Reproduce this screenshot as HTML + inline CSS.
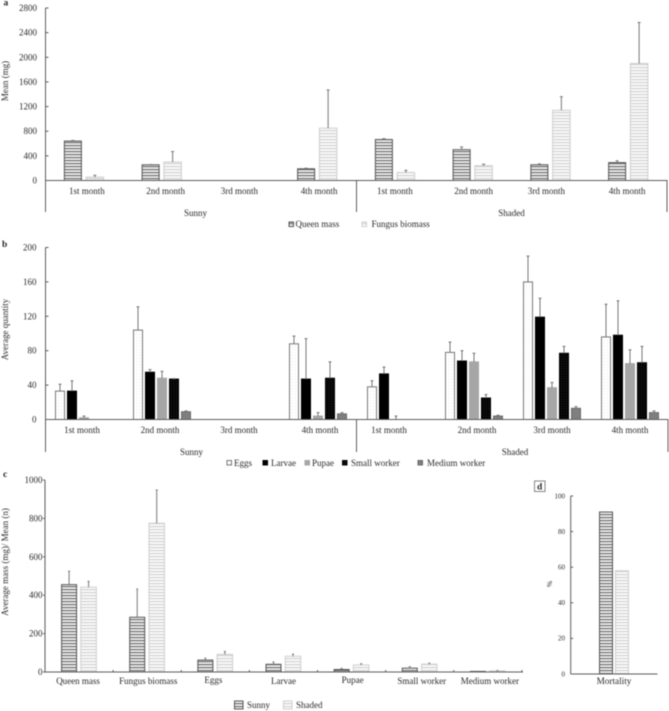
<!DOCTYPE html>
<html lang="en">
<head>
<meta charset="utf-8">
<title>Colony measurements by month and environment</title>
<style>
html,body{margin:0;padding:0;background:#fff;width:669px;height:711px;overflow:hidden}
svg{display:block;filter:blur(0.4px)}
text{font-family:"Liberation Serif",serif;fill:#2a2a2a;font-size:9px}
</style>
</head>
<body>
<svg id="figure" width="669" height="711" viewBox="0 0 669 711" xmlns="http://www.w3.org/2000/svg">
<defs>
<pattern id="stripeDark" patternUnits="userSpaceOnUse" width="4" height="3"><rect width="4" height="3" fill="#f0f0f0"/><rect y="1" width="4" height="1.2" fill="#6e6e6e"/></pattern>
<pattern id="stripeLight" patternUnits="userSpaceOnUse" width="4" height="3"><rect width="4" height="3" fill="#fbfbfb"/><rect y="1" width="4" height="1.2" fill="#d2d2d2"/></pattern>
<pattern id="dotsLight" patternUnits="userSpaceOnUse" width="3" height="3"><rect width="3" height="3" fill="#fff"/><rect x="1" y="1" width="1" height="1" fill="#e6e6e6"/></pattern>
<pattern id="dotsDark" patternUnits="userSpaceOnUse" width="2.5" height="2.5"><rect width="2.5" height="2.5" fill="#050505"/><rect x="1" y="1" width="0.8" height="0.8" fill="#2c2c2c"/></pattern>
</defs>
</svg>
<script>
// Panel a data
const monthLabels = ['1st month','2nd month','3rd month','4th month','1st month','2nd month','3rd month','4th month'];
const groupLabels = ['Sunny','Shaded'];
const aTicks = [0,400,800,1200,1600,2000,2400,2800];
const aQueen = [640,255,0,190,665,500,255,290];
const aQueenErr = [10,5,0,10,15,45,15,30];
const aFungus = [55,300,0,850,130,240,1140,1900];
const aFungusErr = [30,170,0,620,35,25,220,665];

// Panel b data
const bTicks = [0,40,80,120,160,200];
const bEggs = [33,104,0,88,38,78,160,96];
const bEggsErr = [8,27,0,9,7,12,30,38];
const bLarvae = [33,55,0,47,53,68,119,98];
const bLarvaeErr = [12,3,0,47,8,12,22,40];
const bPupae = [2,48,0,4,0,67,37,65];
const bPupaeErr = [2,8,0,4,4,10,6,16];
const bSmall = [0,47,0,48,0,25,77,66];
const bSmallErr = [0,0.5,0,19,0,4,8,19];
const bMedium = [0,9,0,6.5,0,4,13,8];
const bMediumErr = [0,1,0,1.5,0,1,2,2];

// Panel c data
const cCategories = ['Queen mass','Fungus biomass','Eggs','Larvae','Pupae','Small worker','Medium worker'];
const cTicks = [0,200,400,600,800,1000];
const cSunny = [455,285,62,40,13,20,3];
const cSunnyErr = [70,147,10,12,6,8,0.5];
const cShaded = [442,775,92,82,37,41,6];
const cShadedErr = [30,173,15,11,6,5,2];

// Panel d data
const dCategories = ['Mortality'];
const dTicks = [0,20,40,60,80,100];
const dSunny = [91];
const dShaded = [58];

const NS = 'http://www.w3.org/2000/svg';
const root = document.getElementById('figure');

function make(tag, parent, attrs) {
  const node = document.createElementNS(NS, tag);
  for (const k in attrs) node.setAttribute(k, attrs[k]);
  parent.appendChild(node);
  return node;
}
function label(parent, str, x, y, anchor, size, weight, rotate) {
  const attrs = {x: x, y: y, 'text-anchor': anchor || 'middle'};
  if (size) attrs['font-size'] = size;
  if (size) attrs.style = 'font-size:' + size + 'px' + (weight ? ';font-weight:' + weight : '');
  else if (weight) attrs.style = 'font-weight:' + weight;
  if (rotate) attrs.transform = 'rotate(-90 ' + x + ' ' + y + ')';
  const t = make('text', parent, attrs);
  t.textContent = str;
  return t;
}
function seg(parent, x1, y1, x2, y2, color, w) {
  return make('line', parent, {x1: x1, y1: y1, x2: x2, y2: y2, stroke: color, 'stroke-width': w || 1});
}
function linearAxis(maxValue, y0, yTop) {
  return function (v) { return y0 - v / maxValue * (y0 - yTop); };
}
function bandAxis(x0, x1, count) {
  const step = (x1 - x0) / count;
  return function (i) { return x0 + step * (i + 0.5); };
}

const AXIS = '#5c5c5c';
const styles = {
  queen:   {fill: 'url(#stripeDark)',  stroke: '#555', err: '#777'},
  fungus:  {fill: 'url(#stripeLight)', stroke: '#cfcfcf', err: '#777'},
  eggs:    {fill: 'url(#dotsLight)',   stroke: '#777', err: '#777'},
  larvae:  {fill: '#000',              stroke: '#000', err: '#777'},
  pupae:   {fill: '#a6a6a6',           stroke: '#a6a6a6', err: '#777'},
  small:   {fill: 'url(#dotsDark)',    stroke: '#000', err: '#777'},
  medium:  {fill: '#7f7f7f',           stroke: '#6a6a6a', err: '#777'}
};

function drawSeries(parent, name, values, errs, style, xBand, yAxis, barWidth, offset, capHalf) {
  values.forEach(function (v, i) {
    const x = xBand(i) + offset - barWidth / 2;
    const yTop = yAxis(v);
    const bar = make('rect', parent, {x: x + 0.5, y: yTop, width: barWidth - 1, height: Math.max(0, yAxis(0) - yTop), fill: style.fill, stroke: style.stroke, 'stroke-width': 1});
    
    
    if (errs && errs[i] > 0) {
      const cx = x + barWidth / 2;
      const yE = yAxis(v + errs[i]);
      const eb = make('g', parent, {});
      
      
      seg(eb, cx, yTop, cx, yE, style.err);
      seg(eb, cx - capHalf, yE, cx + capHalf, yE, style.err);
    }
  });
}
function drawYAxis(parent, ticks, yAxis, x, yBottom, tickDir, labelX, size) {
  const line = seg(parent, x, yAxis(ticks[ticks.length - 1]), x, yBottom, AXIS);
  
  
  ticks.forEach(function (t) {
    const y = yAxis(t);
    const tk = seg(parent, x, y, x + tickDir, y, AXIS);
    
    
    const lb = label(parent, String(t), labelX, y + (size ? size * 0.33 : 3), 'end', size);
    
    
  });
}
function swatch(parent, name, x, y, w, h, style, sw) {
  const s = make('rect', parent, {x: x, y: y, width: w, height: h, fill: style.fill, stroke: style.stroke, 'stroke-width': sw || 1});
  
  
}
function panelLetter(parent, letter, x, y) {
  const t = label(parent, letter, x, y, 'start', 9.5, 'bold');
  
  
}
function drawMonthAxis(parent, xBand, y0, yBottom, xRight, dividerX, labelY, groupY, groupXs, nudge) {
  const base = seg(parent, 45, y0, xRight, y0, AXIS);
  
  
  const div = seg(parent, dividerX, y0, dividerX, yBottom, AXIS);
  
  
  const end = seg(parent, xRight - 0.5, y0, xRight - 0.5, yBottom, AXIS);
  
  
  monthLabels.forEach(function (m, i) {
    const t = label(parent, m, xBand(i) + (nudge[i] || 0), labelY);
    
    
  });
  groupLabels.forEach(function (g, i) {
    const t = label(parent, g, groupXs[i], groupY);
    
    
  });
}

/* ---------- Panel a ---------- */
const pa = make('g', root, {});


panelLetter(pa, 'a', 3.5, 5.5);
const ya = linearAxis(2800, 180.5, 8);
const xa = bandAxis(45, 667, 8);
drawSeries(pa, 'queen-mass', aQueen, aQueenErr, styles.queen, xa, ya, 18, -11, 1.5);
drawSeries(pa, 'fungus-biomass', aFungus, aFungusErr, styles.fungus, xa, ya, 18.5, 11, 1.5);
drawYAxis(pa, aTicks, ya, 45.5, 212, 3, 37);
drawMonthAxis(pa, xa, 180.5, 212, 667.5, 356.5, 194, 216, [195.5, 511.5], {0: 3, 1: 4, 3: 2, 5: 1, 6: -4, 7: -1});
const ta = label(pa, 'Mean (mg)', 8, 81, 'middle', null, null, true);


swatch(pa, 'legend-swatch-queen-mass', 289, 222, 4.5, 4.5, styles.queen);
const la1 = label(pa, 'Queen mass', 295.5, 227, 'start');


swatch(pa, 'legend-swatch-fungus-biomass', 362, 222, 4.5, 4.5, styles.fungus);
const la2 = label(pa, 'Fungus biomass', 371.5, 227, 'start');



/* ---------- Panel b ---------- */
const pb = make('g', root, {});


panelLetter(pb, 'b', 2, 247);
const yb = linearAxis(200, 419.5, 247.5);
const xb = bandAxis(45, 669, 8);
drawSeries(pb, 'eggs', bEggs, bEggsErr, styles.eggs, xb, yb, 10, -24, 1.5);
drawSeries(pb, 'larvae', bLarvae, bLarvaeErr, styles.larvae, xb, yb, 10, -12, 1.5);
drawSeries(pb, 'pupae', bPupae, bPupaeErr, styles.pupae, xb, yb, 10, 0, 1.5);
drawSeries(pb, 'small-worker', bSmall, bSmallErr, styles.small, xb, yb, 10, 12, 1.5);
drawSeries(pb, 'medium-worker', bMedium, bMediumErr, styles.medium, xb, yb, 10, 24, 1.5);
drawYAxis(pb, bTicks, yb, 45.5, 452, 3, 36.5);
drawMonthAxis(pb, xb, 419.5, 452, 668.5, 356.5, 433, 455, [191.5, 515], {0: -2, 1: -2, 2: -1, 3: 2, 4: -7, 5: 3});
const tb = label(pb, 'Average quantity', 8, 329.5, 'middle', null, null, true);


[
  ['eggs', 'Eggs', 227, 234, styles.eggs],
  ['larvae', 'Larvae', 263, 271, styles.larvae],
  ['pupae', 'Pupae', 305, 312, styles.pupae],
  ['small-worker', 'Small worker', 342.5, 351, styles.small],
  ['medium-worker', 'Medium worker', 418, 427, styles.medium]
].forEach(function (e) {
  swatch(pb, 'legend-swatch-' + e[0], e[2], 460.5, 4.5, 4.5, e[4]);
  const t = label(pb, e[1], e[3], 466, 'start');
  
  
});

/* ---------- Panel c ---------- */
const pc = make('g', root, {});


panelLetter(pc, 'c', 3, 477);
const yc = linearAxis(1000, 672, 480);
const xc = bandAxis(45, 522, 7);
const cLabelNudge = {0: -1, 1: 1, 2: -2, 4: 1, 5: 2, 6: 2};
drawSeries(pc, 'sunny', cSunny, cSunnyErr, styles.queen, xc, yc, 16, -10, 1);
drawSeries(pc, 'shaded', cShaded, cShadedErr, styles.fungus, xc, yc, 16.5, 9.5, 1);
drawYAxis(pc, cTicks, yc, 45, 672, -2, 42.5);
const cBase = seg(pc, 45, 672, 523, 672, AXIS);


cCategories.forEach(function (c, i) {
  const t = label(pc, c, xc(i) + (cLabelNudge[i] || 0), (i === 2 || i === 4) ? 683 : 684);
  
  
  const tk = seg(pc, xc(i) + 34, 672, xc(i) + 34, 670, AXIS);
  
  
});
const tc = label(pc, 'Average mass (mg)/ Mean (n)', 8, 562, 'middle', null, null, true);


swatch(pc, 'legend-swatch-sunny', 234.5, 701, 8.5, 8, styles.queen);
const lc1 = label(pc, 'Sunny', 247, 708, 'start');


swatch(pc, 'legend-swatch-shaded', 283.5, 701, 8.5, 8, styles.fungus);
const lc2 = label(pc, 'Shaded', 296, 708, 'start');



/* ---------- Panel d ---------- */
const pd = make('g', root, {});


const dBox = make('rect', pd, {x: 534.5, y: 481, width: 10.5, height: 10.5, fill: '#fff', stroke: '#666', 'stroke-width': 0.8});


panelLetter(pd, 'd', 537, 489.5);
const yd = linearAxis(100, 674, 496);
const xd = bandAxis(571, 657, 1);
drawSeries(pd, 'mortality-sunny', dSunny, null, styles.queen, xd, yd, 14, -8, 1);
drawSeries(pd, 'mortality-shaded', dShaded, null, styles.fungus, xd, yd, 14, 8, 1);
drawYAxis(pd, dTicks, yd, 570.7, 674, 2.5, 565, 7);
const dBase = seg(pd, 570.7, 674, 657.5, 674, AXIS);


dCategories.forEach(function (c, i) {
  const t = label(pd, c, xd(i), 684, 'middle', 9.2);
  
  
});
const td = label(pd, '%', 552, 584, 'middle', 7.5, null, true);


</script>
</body>
</html>
